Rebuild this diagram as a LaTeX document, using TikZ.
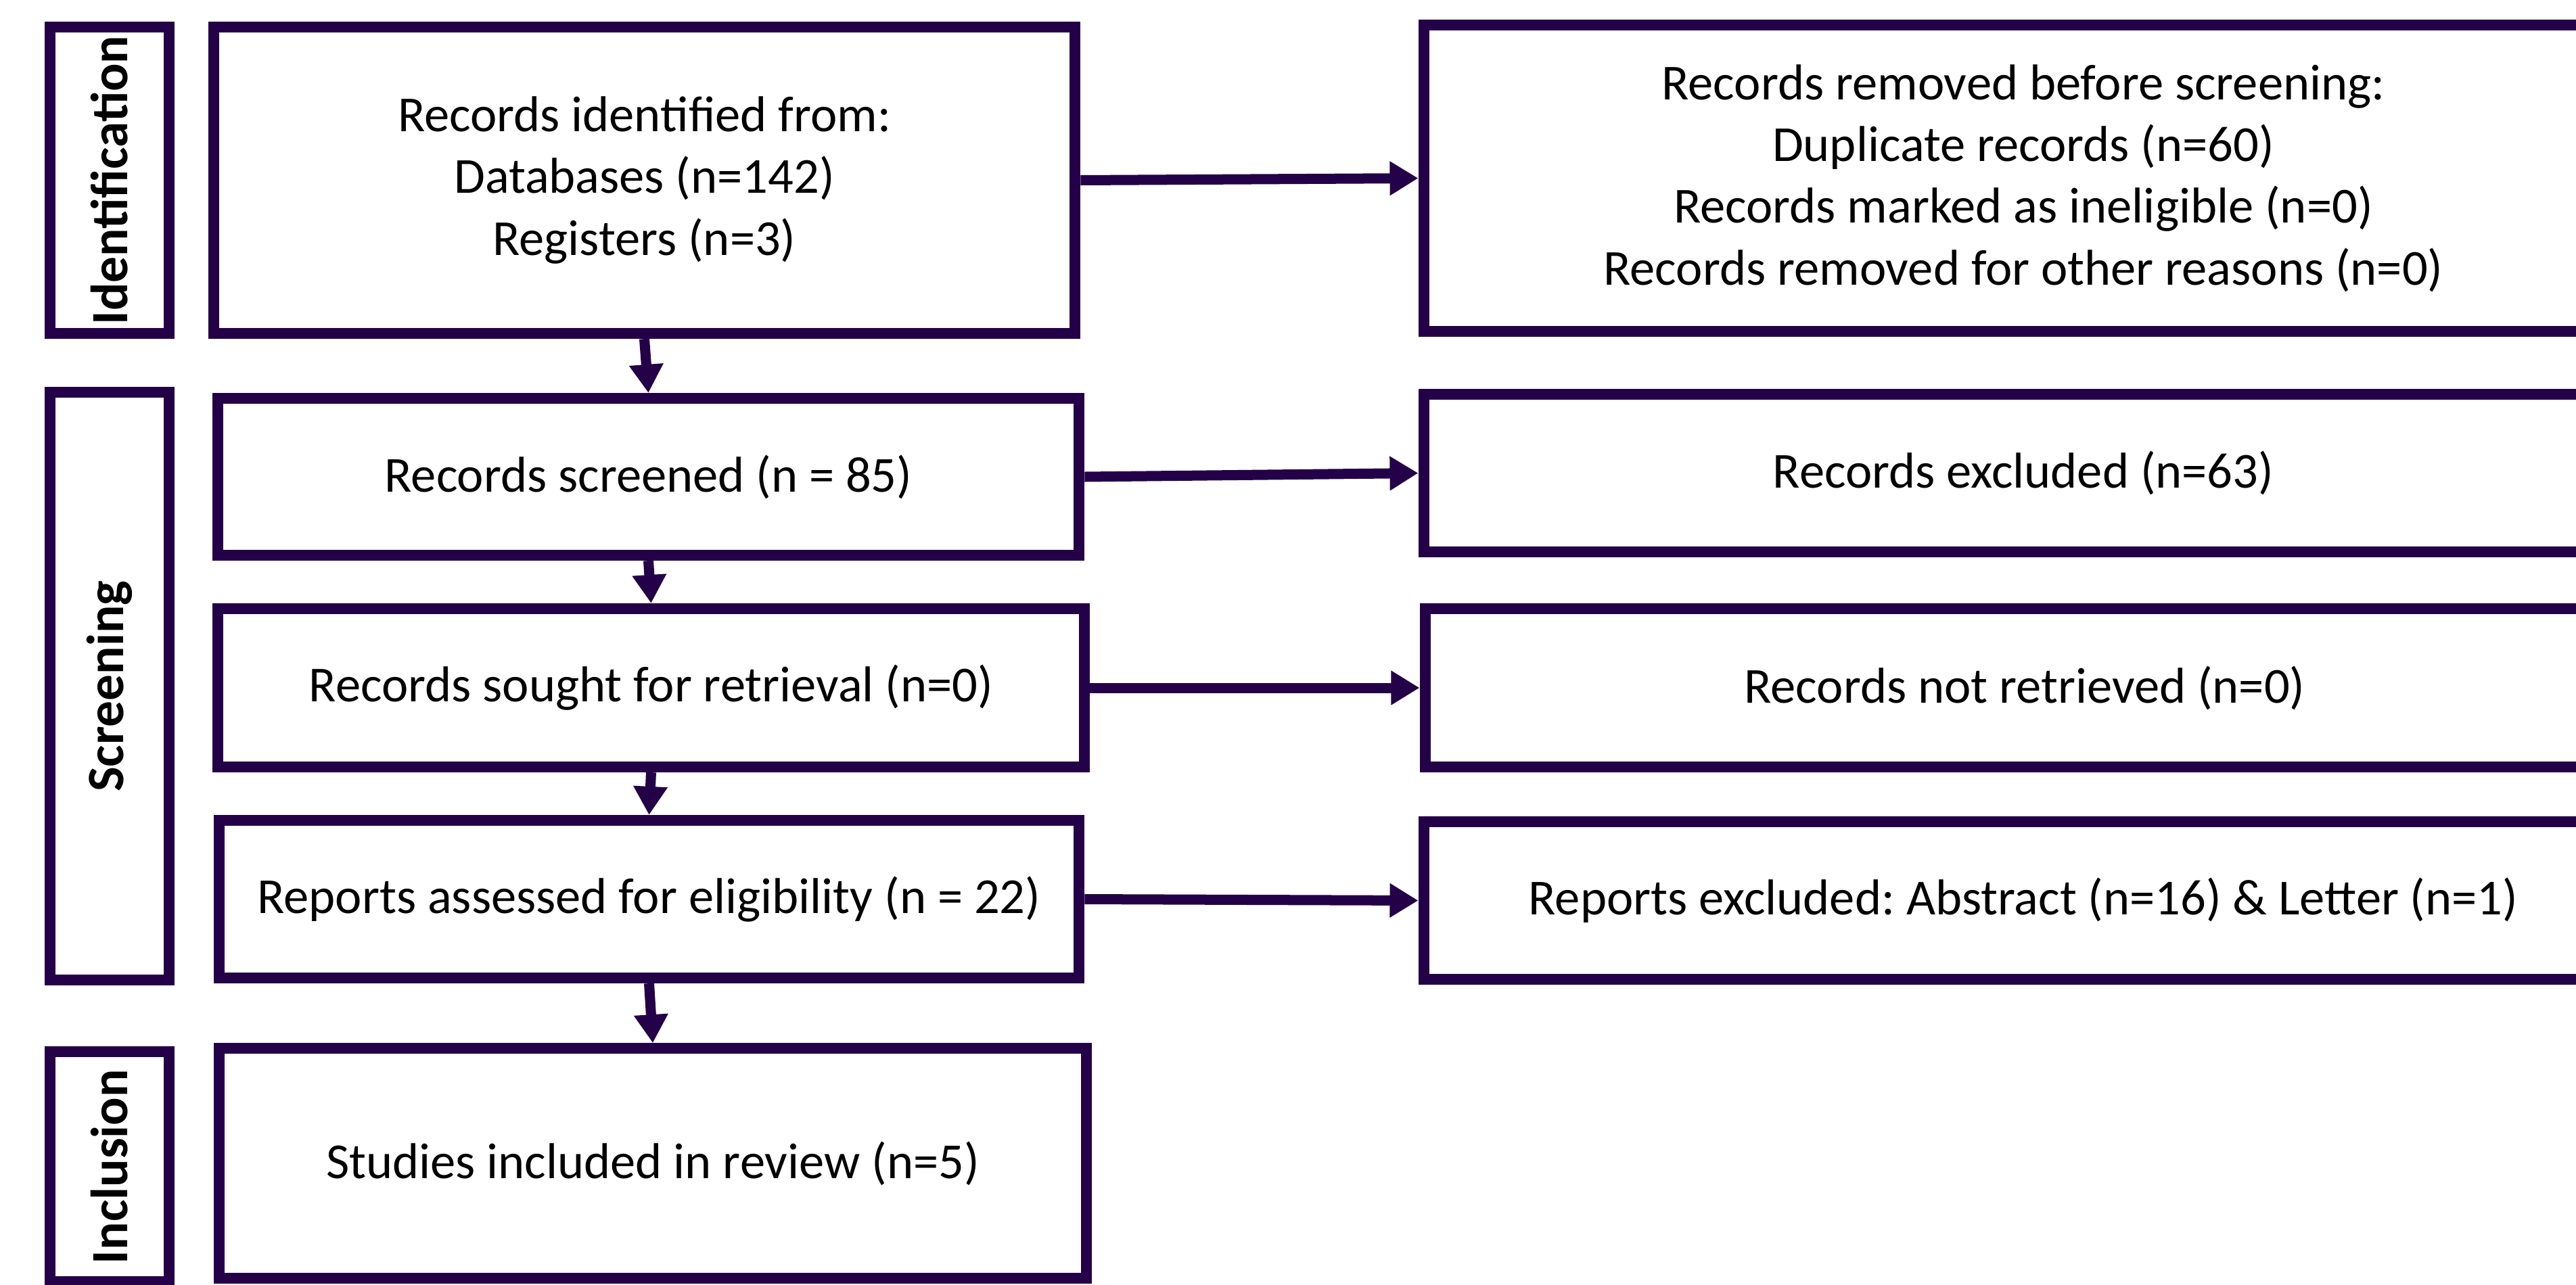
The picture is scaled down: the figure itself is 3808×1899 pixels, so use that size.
\documentclass[tikz,border=0pt]{standalone}
\usepackage{fontspec}
\setmainfont{Carlito}
\usetikzlibrary{arrows.meta}
\definecolor{purp}{RGB}{36,0,72}
\frenchspacing
\tikzset{
  box/.style={draw=purp, line width=0.16cm, fill=white, inner sep=0pt, align=center,
    font=\fontsize{21.2}{26}\selectfont, text=black},
  lbl/.style={box, rotate=90, font=\fontsize{22}{26}\selectfont\bfseries},
  flow/.style={draw=purp, line width=0.15cm, -{Triangle[length=0.42cm,width=0.48cm]}}
}
\begin{document}
\begin{tikzpicture}[x=0.01cm, y=-0.01cm]
\clip (0,0) rectangle (3808,1899);
\fill[white] (0,0) rectangle (3808,1899);
% phase labels
\node[lbl, minimum width=4.53cm, minimum height=1.76cm] (lid) at (162,266.5) {Identification};
\node[lbl, minimum width=8.69cm, minimum height=1.76cm] (lsc) at (162,1014.5) {Screening};
\node[lbl, minimum width=3.40cm, minimum height=1.76cm] (lin) at (162,1725) {Inclusion};
% main column
\node[box, minimum width=12.73cm, minimum height=4.53cm] (n1) at (952.5,266.5) {Records identified from:\\Databases (n=142)\\Registers (n=3)};
\node[box, minimum width=12.73cm, minimum height=2.32cm] (n2) at (958.5,705) {Records screened (n = 85)};
\node[box, minimum width=12.81cm, minimum height=2.34cm] (n3) at (962.5,1017) {Records sought for retrieval (n=0)};
\node[box, minimum width=12.71cm, minimum height=2.33cm] (n4) at (959.5,1329.5) {Reports assessed for eligibility (n = 22)};
\node[box, minimum width=12.82cm, minimum height=3.395cm] (n5) at (965,1720) {Studies included in review (n=5)};
% right column
\node[box, minimum width=17.72cm, minimum height=4.53cm] (r1) at (2991,263.5) {Records removed before screening:\\Duplicate records (n=60)\\Records marked as ineligible (n=0)\\Records removed for other reasons (n=0)};
\node[box, minimum width=17.72cm, minimum height=2.33cm] (r2) at (2991,699.5) {Records excluded (n=63)};
\node[box, minimum width=17.72cm, minimum height=2.34cm] (r3) at (2993,1017) {Records not retrieved (n=0)};
\node[box, minimum width=17.72cm, minimum height=2.33cm] (r4) at (2991,1331.5) {Reports excluded: Abstract (n=16) \& Letter (n=1)};
% connectors
\draw[flow] (n1.east) -- (r1.west);
\draw[flow] (n2.east) -- (r2.west);
\draw[flow] (n3.east) -- (r3.west);
\draw[flow] (n4.east) -- (r4.west);
\draw[flow] (n1.south) -- (n2.north);
\draw[flow] (n2.south) -- (n3.north);
\draw[flow] (n3.south) -- (n4.north);
\draw[flow] (n4.south) -- (n5.north);
\end{tikzpicture}
\end{document}
